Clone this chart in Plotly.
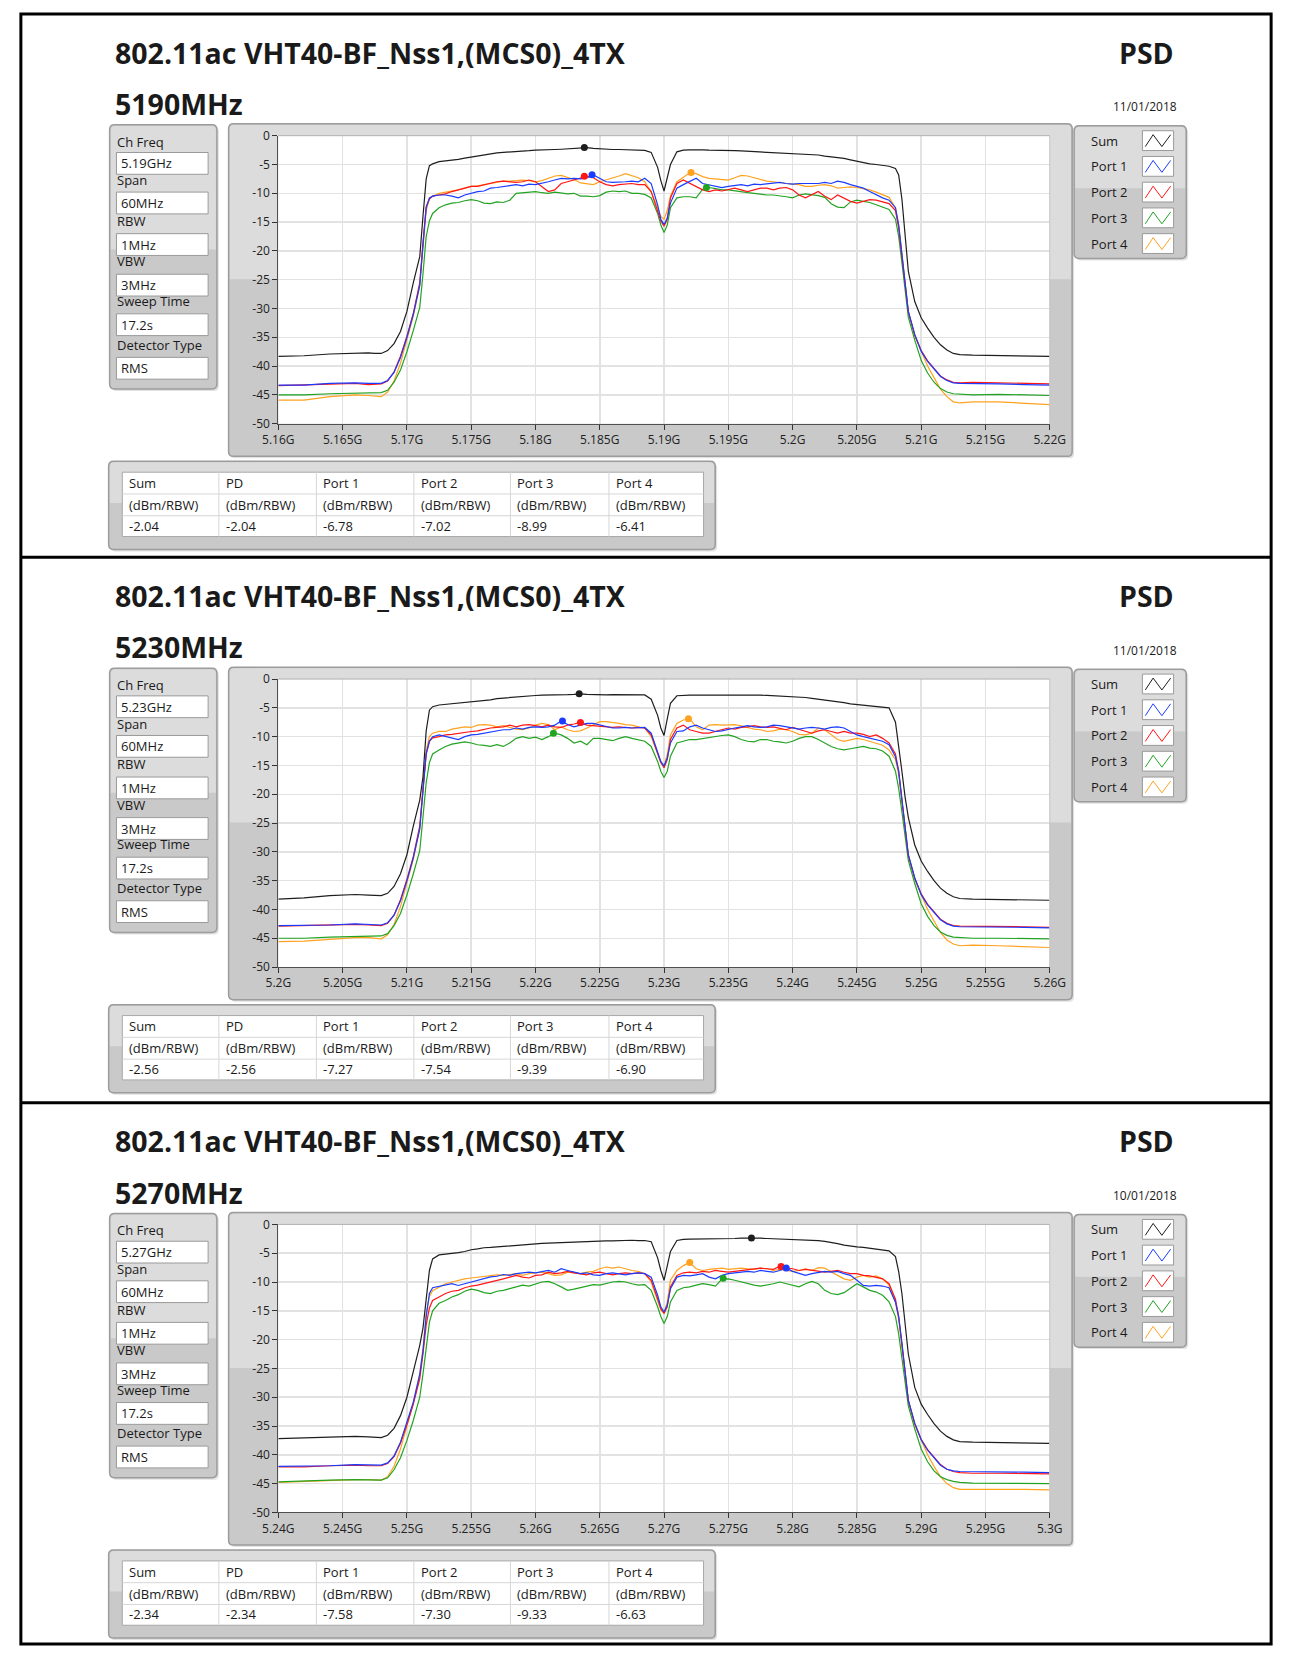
import plotly.graph_objects as go

W, H = 1292, 1657
FONT = "Open Sans"

# ---------------- data ----------------
TITLE = "802.11ac VHT40-BF_Nss1,(MCS0)_4TX"
CENTERS = [5190, 5230, 5270]                    # MHz
SUBTITLES = ["5190MHz", "5230MHz", "5270MHz"]
DATES = ["11/01/2018", "11/01/2018", "10/01/2018"]
CH_FREQ = ["5.19GHz", "5.23GHz", "5.27GHz"]
INFO_LABELS = ["Ch Freq", "Span", "RBW", "VBW", "Sweep Time", "Detector Type"]
INFO_REST = ["60MHz", "1MHz", "3MHz", "17.2s", "RMS"]
SERIES = ["Sum", "Port 1", "Port 2", "Port 3", "Port 4"]
COLORS = ["#1e1e1e", "#1a3cff", "#ff1616", "#22a322", "#ffa21f"]
TABLE_HEAD = ["Sum", "PD", "Port 1", "Port 2", "Port 3", "Port 4"]
TABLE_UNIT = "(dBm/RBW)"
TABLE_VALUES = [
    ["-2.04", "-2.04", "-6.78", "-7.02", "-8.99", "-6.41"],
    ["-2.56", "-2.56", "-7.27", "-7.54", "-9.39", "-6.90"],
    ["-2.34", "-2.34", "-7.58", "-7.30", "-9.33", "-6.63"],
]
PEAK_VALUES = [[-2.04, -6.78, -7.02, -8.99, -6.41],
               [-2.56, -7.27, -7.54, -9.39, -6.90],
               [-2.34, -7.58, -7.30, -9.33, -6.63]]
PEAK_OFFSETS = [[-6.2, -5.6, -6.2, 3.3, 2.1],
                [-6.6, -7.9, -6.5, -8.6, 1.9],
                [6.8, 9.5, 9.1, 4.6, 2.0]]
X_TICKS = [
    ["5.16G", "5.165G", "5.17G", "5.175G", "5.18G", "5.185G", "5.19G", "5.195G", "5.2G", "5.205G", "5.21G", "5.215G", "5.22G"],
    ["5.2G", "5.205G", "5.21G", "5.215G", "5.22G", "5.225G", "5.23G", "5.235G", "5.24G", "5.245G", "5.25G", "5.255G", "5.26G"],
    ["5.24G", "5.245G", "5.25G", "5.255G", "5.26G", "5.265G", "5.27G", "5.275G", "5.28G", "5.285G", "5.29G", "5.295G", "5.3G"],
]
Y_TICKS = ["-50", "-45", "-40", "-35", "-30", "-25", "-20", "-15", "-10", "-5", "0"]
Y_TICKVALS = [-50, -45, -40, -35, -30, -25, -20, -15, -10, -5, 0]

# frequency offsets from channel centre (MHz)
OFFSETS = [
    -30, -28, -26, -24, -23, -22.5, -22, -21.5, -21, -20.5, -20, -19.5, -19, -18.75, -18.5, -18.25, -18,
    -17.5, -17, -16.5, -16, -15.5, -15, -14.5, -14, -13.5, -13, -12.5, -12, -11.5, -11, -10.5, -10,
    -9.5, -9, -8.5, -8, -7.5, -7, -6.5, -6, -5.5, -5, -4.5, -4, -3.5, -3, -2.5, -2, -1.5,
    -1, -0.5, -0.25, 0, 0.25, 0.5, 1,
    1.5, 2, 2.5, 3, 3.5, 4, 4.5, 5, 5.5, 6, 6.5, 7, 7.5, 8, 8.5, 9, 9.5,
    10, 10.5, 11, 11.5, 12, 12.5, 13, 13.5, 14, 14.5, 15, 15.5, 16, 16.5, 17, 17.5,
    18, 18.25, 18.5, 18.75, 19, 19.5, 20, 20.5, 21, 21.5, 22, 22.5, 23, 24, 26, 28, 30,
]

# ---- 5190 MHz ----
SUM_5190 = [
    -38.3, -38.2, -37.9, -37.7, -37.7, -37.8, -37.8, -37.3, -36.1, -34.0, -30.5, -25.5, -21.0, -14.0, -7.5, -5.2, -4.9,
    -4.5, -4.4, -4.3, -4.1, -3.9, -3.7, -3.6, -3.4, -3.2, -3.0, -2.9, -2.85, -2.7, -2.7, -2.6, -2.5,
    -2.5, -2.45, -2.4, -2.35, -2.3, -2.25, -2.15, -2.06, -2.2, -2.3, -2.35, -2.4, -2.4, -2.45, -2.4, -2.45, -2.55,
    -2.9, -5.5, -7.8, -9.6, -7.3, -5.0, -2.8,
    -2.5, -2.45, -2.4, -2.45, -2.5, -2.5, -2.5, -2.5, -2.6, -2.65, -2.7, -2.75, -2.8, -2.85, -2.9, -2.95, -3.0,
    -3.1, -3.1, -3.15, -3.2, -3.35, -3.55, -3.65, -3.8, -3.95, -4.2, -4.45, -4.7, -4.9, -5.0, -5.15, -5.3,
    -5.7, -6.8, -11.0, -17.5, -23.5, -28.8, -31.6, -33.4, -35.0, -36.3, -37.2, -37.8, -38.0, -38.1, -38.2, -38.3, -38.3,
]
P1_5190 = [
    -43.3, -43.3, -43.0, -42.9, -43.0, -43.0, -43.0, -42.5, -41.1, -38.5, -35.0, -31.0, -26.0, -19.0, -12.5, -10.8, -10.5,
    -10.3, -10.3, -10.5, -10.8, -10.3, -10.0, -9.7, -9.6, -9.1, -9.0, -8.8, -8.7, -8.5, -8.7, -8.4, -8.5,
    -8.3, -8.0, -7.7, -7.4, -7.5, -7.4, -7.5, -7.3, -6.8, -7.4, -8.0, -8.1, -8.1, -8.0, -7.9, -8.0, -7.4,
    -8.3, -12.0, -14.5, -15.4, -14.3, -11.7, -9.1,
    -8.5, -7.9, -7.4, -8.3, -8.5, -8.8, -9.0, -8.8, -8.7, -8.5, -8.7, -8.4, -8.5, -8.4, -8.3, -8.1, -8.3,
    -8.4, -8.3, -8.3, -8.4, -8.3, -8.1, -8.3, -7.9, -8.1, -8.5, -8.8, -9.1, -9.7, -10.3, -10.8, -11.2,
    -12.5, -15.5, -20.5, -26.0, -30.5, -34.5, -37.4, -39.2, -40.6, -41.8, -42.5, -42.9, -43.0, -43.0, -43.1, -43.2, -43.3,
]
P2_5190 = [
    -43.4, -43.3, -43.1, -43.0, -43.2, -43.2, -43.1, -42.6, -41.0, -38.3, -34.8, -30.8, -25.5, -18.5, -12.3, -11.0, -10.5,
    -10.3, -10.1, -9.7, -9.4, -9.1, -8.8, -8.8, -8.5, -8.3, -8.0, -7.9, -8.0, -8.1, -8.0, -7.7, -8.0,
    -8.8, -9.7, -9.4, -8.3, -8.0, -7.7, -7.4, -7.02, -7.3, -8.0, -8.5, -8.7, -8.5, -8.4, -8.3, -8.5, -8.5,
    -9.7, -13.1, -14.8, -15.7, -14.5, -10.8, -8.3,
    -7.7, -8.3, -8.8, -9.4, -9.7, -9.4, -9.6, -9.4, -9.1, -9.4, -9.7, -9.4, -9.1, -9.1, -9.4, -9.1, -9.0,
    -9.4, -10.3, -10.8, -10.3, -9.7, -10.5, -11.1, -10.3, -10.8, -11.4, -11.7, -11.4, -11.1, -11.2, -11.5, -11.8,
    -13.0, -16.0, -21.0, -26.2, -30.6, -34.6, -37.3, -39.1, -40.5, -41.7, -42.4, -42.8, -42.9, -42.8, -42.9, -43.0, -43.1,
]
P3_5190 = [
    -45.0, -45.0, -44.8, -44.7, -44.7, -44.7, -44.6, -44.2, -42.8, -40.7, -37.5, -33.8, -29.8, -24.0, -17.5, -14.8, -13.5,
    -12.5, -12.0, -11.7, -11.6, -11.3, -11.1, -11.3, -11.7, -11.8, -11.5, -11.6, -11.2, -10.0, -9.9, -9.7, -9.7,
    -9.9, -10.0, -9.8, -10.0, -10.1, -10.0, -10.5, -10.5, -10.6, -10.4, -9.8, -9.6, -9.7, -9.6, -10.0, -10.0, -10.2,
    -10.8, -13.5, -15.5, -16.8, -15.5, -12.5, -10.8,
    -10.6, -10.6, -10.8, -9.3, -9.0, -9.2, -9.4, -9.4, -9.6, -9.7, -9.9, -10.0, -10.2, -10.3, -10.3, -10.4, -10.6,
    -10.8, -10.3, -10.1, -10.2, -10.4, -10.7, -11.8, -12.4, -12.5, -11.5, -11.2, -11.4, -11.6, -12.0, -12.4, -12.8,
    -14.5, -17.5, -22.0, -27.0, -31.5, -35.5, -39.0, -41.2, -42.8, -43.9, -44.5, -44.8, -44.9, -45.0, -44.9, -45.0, -45.1,
]
P4_5190 = [
    -45.9, -45.9, -45.3, -45.0, -45.1, -45.2, -45.3, -44.5, -42.6, -39.5, -35.5, -31.3, -26.0, -19.0, -13.0, -11.0, -10.5,
    -10.0, -9.8, -9.7, -9.4, -9.1, -8.8, -8.7, -8.5, -8.2, -8.0, -7.9, -7.9, -7.8, -7.7, -7.8, -8.0,
    -7.8, -7.4, -7.0, -6.9, -7.3, -7.6, -8.2, -8.4, -8.5, -8.0, -7.7, -7.4, -7.0, -6.6, -6.9, -7.3, -8.0,
    -9.8, -12.5, -14.0, -14.5, -13.0, -10.5, -8.0,
    -7.2, -6.45, -6.6, -7.1, -7.4, -7.5, -7.6, -7.7, -7.3, -6.9, -7.0, -7.3, -7.6, -7.9, -8.0, -8.2, -8.3,
    -8.4, -8.5, -8.8, -8.8, -8.6, -8.5, -8.7, -9.1, -9.0, -8.9, -9.0, -9.2, -9.4, -9.8, -10.2, -10.7,
    -12.5, -15.5, -20.5, -26.0, -30.5, -34.8, -37.5, -40.0, -42.0, -44.0, -45.3, -46.2, -46.4, -46.2, -46.2, -46.5, -46.7,
]

# ---- 5230 MHz ----
SUM_5230 = [
    -38.2, -38.0, -37.6, -37.4, -37.5, -37.5, -37.6, -37.2, -36.0, -33.8, -30.5, -25.5, -21.0, -17.0, -9.0, -5.4, -4.8,
    -4.5, -4.4, -4.3, -4.2, -4.1, -3.9, -3.8, -3.7, -3.6, -3.4, -3.3, -3.2, -3.05, -3.0, -2.9, -2.85,
    -2.8, -2.8, -2.75, -2.75, -2.7, -2.65, -2.57, -2.65, -2.7, -2.8, -2.75, -2.7, -2.7, -2.7, -2.7, -2.7, -2.75,
    -3.5, -6.3, -8.5, -9.8, -6.9, -4.2, -2.9,
    -2.8, -2.8, -2.8, -2.8, -2.8, -2.8, -2.75, -2.75, -2.7, -2.7, -2.75, -2.75, -2.8, -2.85, -2.9, -3.0, -3.05,
    -3.1, -3.15, -3.2, -3.35, -3.5, -3.6, -3.7, -3.9, -4.1, -4.3, -4.4, -4.5, -4.6, -4.75, -4.9, -5.0,
    -7.5, -11.5, -16.0, -20.5, -24.0, -28.8, -31.6, -33.4, -35.0, -36.3, -37.2, -37.8, -38.1, -38.2, -38.3, -38.3, -38.4,
]
P1_5230 = [
    -42.8, -42.8, -42.7, -42.5, -42.6, -42.7, -42.7, -42.3, -41.0, -38.5, -35.0, -31.0, -26.0, -19.5, -13.0, -10.8, -10.0,
    -9.7, -10.0, -10.3, -10.5, -10.0, -9.7, -9.6, -9.4, -9.2, -9.1, -8.8, -8.8, -8.5, -8.7, -8.4, -8.3,
    -8.4, -8.3, -8.0, -7.27, -7.9, -8.3, -8.0, -7.7, -7.7, -8.0, -8.3, -8.5, -8.5, -8.4, -8.5, -8.4, -8.4,
    -9.4, -12.5, -14.3, -15.1, -13.7, -11.1, -9.1,
    -9.0, -8.3, -8.0, -8.5, -8.8, -9.1, -9.0, -8.7, -8.5, -8.3, -8.1, -8.3, -8.4, -8.3, -8.0, -8.1, -8.3,
    -8.5, -8.7, -8.5, -8.4, -8.5, -8.7, -8.4, -8.3, -8.5, -9.1, -9.7, -10.0, -10.3, -10.5, -10.8, -11.4,
    -13.5, -16.0, -20.5, -26.0, -30.5, -34.5, -37.4, -39.2, -40.6, -41.8, -42.5, -42.9, -43.0, -43.0, -43.0, -43.1, -43.2,
]
P2_5230 = [
    -42.9, -42.8, -42.7, -42.6, -42.7, -42.7, -42.8, -42.4, -41.0, -38.3, -34.8, -30.8, -25.5, -19.0, -13.0, -10.8, -10.2,
    -10.0, -9.7, -9.6, -9.4, -9.2, -9.1, -9.0, -8.7, -8.5, -8.4, -8.3, -8.0, -8.3, -8.0, -7.9, -8.1,
    -8.3, -8.0, -8.3, -8.4, -8.0, -7.8, -7.54, -8.0, -8.1, -8.3, -8.4, -8.4, -8.3, -8.4, -8.5, -8.4, -8.5,
    -9.7, -13.1, -14.5, -15.4, -14.0, -10.5, -8.5,
    -8.0, -8.8, -9.1, -9.4, -9.4, -9.1, -8.8, -8.5, -8.7, -8.4, -8.3, -8.1, -8.3, -8.4, -8.3, -8.5, -8.8,
    -8.4, -8.7, -9.1, -9.4, -9.0, -8.8, -9.1, -9.4, -9.1, -9.4, -9.4, -9.6, -10.0, -9.7, -10.3, -11.1,
    -13.0, -16.0, -21.0, -26.2, -30.6, -34.6, -37.3, -39.1, -40.5, -41.7, -42.4, -42.8, -42.9, -42.9, -43.0, -43.0, -43.1,
]
P3_5230 = [
    -45.0, -45.0, -44.8, -44.7, -44.7, -44.7, -44.6, -44.2, -42.8, -40.7, -37.5, -33.8, -29.8, -24.0, -18.0, -14.5, -13.0,
    -12.3, -11.7, -11.3, -11.1, -10.9, -11.1, -11.4, -11.5, -11.7, -11.4, -11.7, -11.1, -10.3, -10.0, -10.3, -10.1,
    -10.5, -10.0, -9.39, -9.7, -10.3, -11.1, -10.8, -11.4, -10.3, -10.3, -10.5, -10.7, -10.3, -10.0, -10.3, -10.5, -10.8,
    -11.7, -14.3, -16.0, -17.1, -16.0, -13.4, -11.1,
    -10.8, -10.5, -10.5, -10.3, -10.1, -10.0, -9.8, -9.7, -10.0, -10.5, -10.8, -10.9, -10.5, -10.5, -10.8, -10.9, -11.1,
    -10.8, -10.3, -10.0, -10.0, -10.5, -11.1, -11.7, -12.1, -12.3, -12.1, -11.9, -11.7, -12.0, -12.1, -12.5, -13.4,
    -16.0, -19.0, -23.0, -27.5, -31.5, -35.5, -39.0, -41.2, -42.8, -43.9, -44.5, -44.8, -44.9, -45.0, -45.0, -45.0, -45.1,
]
P4_5230 = [
    -45.6, -45.5, -45.2, -44.9, -44.9, -45.0, -45.1, -44.4, -42.6, -39.5, -35.5, -31.3, -26.0, -19.0, -12.5, -10.0, -9.4,
    -9.1, -9.1, -8.7, -8.5, -8.3, -8.4, -8.0, -7.9, -8.0, -8.3, -8.1, -8.4, -8.7, -8.8, -8.5, -8.0,
    -7.7, -7.9, -8.8, -8.3, -8.8, -9.1, -9.0, -8.5, -8.0, -7.4, -7.4, -7.5, -7.7, -7.9, -8.0, -8.3, -8.5,
    -10.0, -13.1, -14.5, -15.1, -13.1, -9.7, -7.7,
    -7.1, -6.9, -8.3, -8.8, -8.0, -7.9, -8.0, -8.0, -7.9, -8.1, -8.4, -8.7, -8.8, -9.1, -9.0, -8.7, -8.8,
    -9.1, -9.6, -9.7, -9.4, -8.5, -8.8, -9.7, -10.5, -10.8, -10.5, -10.3, -10.5, -10.8, -11.1, -11.5, -12.3,
    -14.0, -16.5, -21.0, -26.0, -30.5, -34.8, -37.5, -40.0, -42.0, -44.0, -45.3, -46.0, -46.3, -46.2, -46.3, -46.4, -46.6,
]

# ---- 5270 MHz ----
SUM_5270 = [
    -37.2, -37.1, -37.0, -36.8, -36.9, -37.0, -37.0, -36.6, -35.4, -33.2, -30.0, -25.5, -21.0, -18.0, -13.0, -8.0, -6.0,
    -5.3, -5.15, -5.05, -4.9, -4.7, -4.4, -4.25, -4.05, -4.0, -3.9, -3.8, -3.7, -3.65, -3.55, -3.45, -3.4,
    -3.3, -3.25, -3.2, -3.1, -3.1, -3.05, -3.0, -3.0, -2.95, -2.9, -2.85, -2.85, -2.8, -2.75, -2.75, -2.8, -2.8,
    -3.0, -5.8, -8.0, -9.7, -7.2, -4.7, -2.8,
    -2.6, -2.55, -2.55, -2.5, -2.5, -2.5, -2.5, -2.45, -2.45, -2.4, -2.36, -2.34, -2.4, -2.45, -2.5, -2.5, -2.55,
    -2.6, -2.6, -2.65, -2.7, -2.8, -2.95, -3.1, -3.35, -3.6, -3.8, -3.9, -4.0, -4.15, -4.3, -4.45, -4.6,
    -5.6, -8.2, -12.0, -17.5, -22.5, -28.3, -31.2, -33.0, -34.6, -35.9, -36.8, -37.4, -37.7, -37.8, -37.9, -38.0, -38.0,
]
P1_5270 = [
    -42.0, -42.0, -41.9, -41.7, -41.8, -41.8, -41.8, -41.4, -40.2, -37.8, -34.5, -30.8, -26.0, -22.0, -16.0, -12.0, -11.0,
    -10.75, -10.6, -10.3, -10.6, -10.3, -10.0, -9.7, -9.4, -9.1, -9.0, -8.7, -8.85, -8.55, -8.4, -8.3, -8.4,
    -8.15, -8.0, -8.3, -7.7, -8.0, -8.3, -8.55, -8.4, -8.75, -8.85, -8.55, -8.4, -8.55, -8.75, -8.55, -8.4, -8.55,
    -9.15, -12.3, -14.3, -15.2, -14.0, -11.15, -9.15,
    -8.85, -8.95, -8.75, -8.55, -9.15, -9.45, -8.85, -8.55, -8.4, -8.3, -8.15, -8.3, -8.0, -8.15, -8.3, -8.0, -7.58,
    -8.15, -8.55, -8.85, -8.55, -8.3, -8.15, -8.3, -8.15, -8.55, -8.85, -9.7, -10.6, -10.7, -10.6, -10.7, -11.0,
    -13.5, -16.0, -20.5, -26.0, -30.5, -34.5, -37.4, -39.2, -40.6, -41.8, -42.5, -42.8, -42.9, -42.9, -43.0, -43.0, -43.1,
]
P2_5270 = [
    -42.1, -42.1, -41.9, -41.8, -41.9, -41.9, -41.9, -41.5, -40.3, -38.0, -34.8, -31.2, -26.8, -22.5, -17.5, -14.5, -13.2,
    -12.6, -12.0, -11.6, -11.45, -11.0, -10.7, -10.55, -10.3, -10.0, -9.7, -9.45, -9.15, -8.85, -9.15, -9.3, -8.85,
    -8.75, -8.3, -8.55, -8.4, -8.15, -8.4, -8.55, -8.75, -8.4, -8.3, -8.55, -8.75, -8.55, -8.4, -8.55, -8.4, -8.55,
    -9.7, -12.9, -14.6, -15.45, -14.3, -10.85, -8.85,
    -8.4, -8.3, -8.4, -8.15, -8.3, -8.0, -8.15, -8.3, -8.15, -8.0, -7.8, -7.7, -7.6, -7.7, -7.8, -7.3, -7.6,
    -7.7, -8.0, -7.8, -8.0, -8.15, -8.3, -8.15, -8.0, -8.3, -8.55, -8.55, -8.85, -8.95, -9.15, -9.45, -10.3,
    -13.0, -16.0, -21.0, -26.2, -30.6, -34.6, -37.3, -39.1, -40.5, -41.7, -42.5, -42.9, -43.1, -43.2, -43.2, -43.2, -43.3,
]
P3_5270 = [
    -44.7, -44.5, -44.4, -44.3, -44.3, -44.4, -44.4, -44.0, -42.6, -40.5, -37.5, -34.0, -30.0, -26.0, -21.0, -17.0, -15.0,
    -13.7, -13.2, -12.6, -12.2, -11.6, -11.25, -11.45, -11.85, -12.0, -11.6, -11.45, -11.15, -10.85, -10.55, -10.7, -10.3,
    -10.0, -9.9, -10.3, -10.85, -11.45, -11.25, -11.0, -10.7, -10.45, -10.55, -10.3, -10.0, -9.9, -10.0, -10.3, -10.55, -10.45,
    -11.45, -14.3, -16.0, -17.2, -16.0, -13.45, -11.45,
    -11.0, -10.85, -10.55, -10.3, -10.45, -10.7, -9.5, -9.45, -9.7, -10.0, -10.3, -10.55, -10.7, -10.55, -10.3, -10.0, -10.3,
    -10.55, -10.85, -10.3, -9.9, -10.3, -11.45, -12.0, -12.2, -11.85, -11.15, -10.3, -10.85, -11.45, -11.75, -12.3, -13.45,
    -16.0, -19.0, -23.0, -27.5, -31.5, -35.5, -39.0, -41.2, -42.8, -43.8, -44.3, -44.6, -44.8, -44.9, -44.9, -45.0, -45.0,
]
P4_5270 = [
    -44.8, -44.6, -44.4, -44.3, -44.3, -44.4, -44.4, -43.8, -42.0, -39.0, -35.2, -31.0, -26.0, -21.5, -15.5, -12.5, -11.5,
    -10.85, -10.3, -10.0, -9.7, -9.45, -9.3, -9.15, -8.95, -8.85, -8.75, -8.85, -8.75, -8.55, -8.85, -8.55, -8.4,
    -8.3, -8.55, -8.85, -8.75, -8.3, -8.4, -8.55, -8.3, -8.15, -7.7, -7.4, -7.6, -7.4, -7.7, -8.0, -8.15, -8.55,
    -10.0, -13.45, -14.9, -15.45, -13.45, -9.7, -8.0,
    -7.15, -6.63, -7.7, -8.0, -7.8, -7.7, -7.6, -7.8, -7.7, -7.6, -7.7, -7.8, -7.6, -7.7, -8.0, -7.8, -8.0,
    -8.15, -8.0, -7.7, -8.0, -7.5, -7.6, -8.3, -8.85, -9.45, -9.7, -9.15, -8.85, -9.15, -8.95, -9.45, -10.55,
    -13.5, -16.5, -21.0, -26.0, -30.5, -34.8, -37.5, -40.0, -42.0, -43.8, -45.0, -45.7, -46.0, -46.0, -45.9, -46.0, -46.1,
]

PANEL_SERIES = [
    [SUM_5190, P1_5190, P2_5190, P3_5190, P4_5190],
    [SUM_5230, P1_5230, P2_5230, P3_5230, P4_5230],
    [SUM_5270, P1_5270, P2_5270, P3_5270, P4_5270],
]
for grp in PANEL_SERIES:
    for s in grp:
        assert len(s) == len(OFFSETS), len(s)

# ---------------- layout helpers ----------------
PANEL_OFF = [0, 549, 1100]


def X(px):
    return px / W


def Y(py):
    return 1 - py / H


shapes = []
annotations = []


def rr(x0, y0, x1, y1, r):
    return (f"M{X(x0 + r)},{Y(y0)} L{X(x1 - r)},{Y(y0)} Q{X(x1)},{Y(y0)} {X(x1)},{Y(y0 + r)} "
            f"L{X(x1)},{Y(y1 - r)} Q{X(x1)},{Y(y1)} {X(x1 - r)},{Y(y1)} L{X(x0 + r)},{Y(y1)} "
            f"Q{X(x0)},{Y(y1)} {X(x0)},{Y(y1 - r)} L{X(x0)},{Y(y0 + r)} Q{X(x0)},{Y(y0)} {X(x0 + r)},{Y(y0)} Z")


def rr_top(x0, y0, x1, ys, r):
    return (f"M{X(x0)},{Y(ys)} L{X(x0)},{Y(y0 + r)} Q{X(x0)},{Y(y0)} {X(x0 + r)},{Y(y0)} "
            f"L{X(x1 - r)},{Y(y0)} Q{X(x1)},{Y(y0)} {X(x1)},{Y(y0 + r)} L{X(x1)},{Y(ys)} Z")


def path(p, fill=None, color=None, width=0, layer="below"):
    d = dict(type="path", path=p, xref="paper", yref="paper", layer=layer,
             line=dict(width=width, color=color or "rgba(0,0,0,0)"))
    d["fillcolor"] = fill if fill else "rgba(0,0,0,0)"
    shapes.append(d)


def rect(x0, y0, x1, y1, fill=None, color=None, width=0, layer="below"):
    shapes.append(dict(type="rect", xref="paper", yref="paper", x0=X(x0), x1=X(x1), y0=Y(y1), y1=Y(y0),
                       fillcolor=fill if fill else "rgba(0,0,0,0)", layer=layer,
                       line=dict(width=width, color=color or "rgba(0,0,0,0)")))


def line(x0, y0, x1, y1, color, width=1, layer="below"):
    shapes.append(dict(type="line", xref="paper", yref="paper", x0=X(x0), x1=X(x1), y0=Y(y0), y1=Y(y1),
                       layer=layer, line=dict(color=color, width=width)))


def text(x, y, s, size=13, bold=False, anchor="left", color="#1a1a1a"):
    annotations.append(dict(x=X(x), y=Y(y), xref="paper", yref="paper",
                            text=f"<b>{s}</b>" if bold else s, showarrow=False,
                            xanchor=anchor, yanchor="middle", borderpad=0,
                            font=dict(family=FONT, size=size, color=color)))


def frame(x0, y0, x1, y1, split, r=5):
    path(rr(x0 + 2, y0 + 2, x1 + 2, y1 + 2, r), fill="#e2e2e2")
    path(rr(x0, y0, x1, y1, r), fill="#c9c9c9")
    path(rr_top(x0 + 1, y0 + 1, x1 - 1, split, r), fill="#dcdcdc")
    path(rr(x0, y0, x1, y1, r), color="#9c9c9c", width=1.5)


# outer border and dividers
rect(5, 5, 1287, 1652, color="#000000", width=3, layer="above")
line(5, 554, 1287, 554, "#000000", 3, layer="above")
line(5, 1105, 1287, 1105, "#000000", 3, layer="above")

fig = go.Figure()
DRAW_ORDER = [4, 3, 2, 1, 0]
INFO_LABEL_Y = [134, 173, 214, 255, 295, 339]
INFO_BOX_Y = [(145, 167), (185, 207), (227, 249), (268, 290), (308, 330), (352, 374)]
LEG_Y = [133, 159, 185, 211, 237]
TAB_COL_X = [109, 208, 308, 408, 507, 608, 705]
TAB_ROW_Y = [479, 501, 522]

layout_axes = {}
for p in range(3):
    o = PANEL_OFF[p]
    c = CENTERS[p]
    suf = "" if p == 0 else str(p + 1)

    # headings
    text(101, 44 + o, TITLE, 28.5, bold=True)
    text(101, 96 + o, SUBTITLES[p], 28.5, bold=True)
    text(1188, 44 + o, "PSD", 28.5, bold=True, anchor="right")
    text(1192, 99 + o, DATES[p], 12, anchor="right")

    # info panel
    frame(96, 117 + o, 206, 384 + o, 243 + o)
    values = [CH_FREQ[p]] + INFO_REST
    for i, lab in enumerate(INFO_LABELS):
        text(103, INFO_LABEL_Y[i] + o, lab, 13)
        b0, b1 = INFO_BOX_Y[i]
        rect(103, b0 + o, 197, b1 + o, fill="#ffffff", color="#9a9a9a", width=1)
        text(107, (b0 + b1) / 2 + o, values[i], 13)

    # plot frame + white plotting area
    frame(218, 116 + o, 1083, 452 + o, 273 + o)
    rect(269, 128 + o, 1060, 419 + o, fill="#ffffff")
    line(269, 128 + o, 1060, 128 + o, "#b0b0b0", 1, layer="above")
    line(1060, 128 + o, 1060, 419 + o, "#c4c4c4", 1, layer="above")

    # legend
    frame(1085, 118 + o, 1200, 252 + o, 181 + o)
    for i, name in enumerate(SERIES):
        yy = LEG_Y[i] + o
        text(1101, yy, name, 13)
        rect(1155, yy - 10, 1187, yy + 10, fill="#ffffff", color="#9a9a9a", width=1)
        zz = (f"M{X(1158)},{Y(yy + 6)} L{X(1166)},{Y(yy - 6)} L{X(1175)},{Y(yy + 6)} "
              f"L{X(1184)},{Y(yy - 6)}")
        path(zz, color=COLORS[i], width=1, layer="above")

    # table
    frame(95, 457 + o, 717, 546 + o, 499 + o)
    rect(109, 468 + o, 705, 533 + o, fill="#ffffff", color="#a8a8a8", width=1)
    for yl in (490, 512):
        line(109, yl + o, 705, yl + o, "#d6d6d6", 1)
    for xl in TAB_COL_X[1:-1]:
        line(xl, 468 + o, xl, 533 + o, "#d6d6d6", 1)
    rows = [TABLE_HEAD, [TABLE_UNIT] * 6, TABLE_VALUES[p]]
    for r, row in enumerate(rows):
        for k, val in enumerate(row):
            text(TAB_COL_X[k] + 6, TAB_ROW_Y[r] + o, val, 13)

    # traces
    xs = [c + off for off in OFFSETS]
    for s in DRAW_ORDER:
        fig.add_trace(go.Scatter(x=xs, y=PANEL_SERIES[p][s], mode="lines",
                                 line=dict(color=COLORS[s], width=1.2),
                                 xaxis="x" + suf, yaxis="y" + suf, hoverinfo="skip",
                                 showlegend=False))
    for s in DRAW_ORDER:
        fig.add_trace(go.Scatter(x=[c + PEAK_OFFSETS[p][s]], y=[PEAK_VALUES[p][s]], mode="markers",
                                 marker=dict(color=COLORS[s], size=7),
                                 xaxis="x" + suf, yaxis="y" + suf, hoverinfo="skip",
                                 showlegend=False))

    layout_axes["xaxis" + suf] = dict(
        domain=[X(269), X(1060)], range=[c - 30, c + 30], anchor="y" + suf,
        tickvals=[c - 30 + 5 * k for k in range(13)], ticktext=X_TICKS[p],
        ticks="outside", ticklen=5, tickwidth=1, tickcolor="#333333",
        showline=True, linecolor="#505050", linewidth=1,
        showgrid=True, gridcolor="#e2e2e2", gridwidth=1.5, zeroline=False,
        tickfont=dict(family=FONT, size=12, color="#222222"), fixedrange=True)
    layout_axes["yaxis" + suf] = dict(
        domain=[Y(419 + o), Y(128 + o)], range=[-50, 0], anchor="x" + suf,
        tickvals=Y_TICKVALS, ticktext=Y_TICKS,
        ticks="outside", ticklen=5, tickwidth=1, tickcolor="#333333",
        showline=True, linecolor="#505050", linewidth=1,
        showgrid=True, gridcolor="#e2e2e2", gridwidth=1.5, zeroline=False,
        tickfont=dict(family=FONT, size=12, color="#222222"), fixedrange=True)

fig.update_layout(
    width=W, height=H, autosize=False,
    margin=dict(l=0, r=0, t=0, b=0),
    paper_bgcolor="#ffffff", plot_bgcolor="#ffffff",
    showlegend=False, shapes=shapes, annotations=annotations,
    hovermode=False,
    **layout_axes,
)

fig.write_html("out.html",
               config={"displayModeBar": False, "staticPlot": True},
               post_script="document.body.style.margin='0px';document.body.style.padding='0px';")
